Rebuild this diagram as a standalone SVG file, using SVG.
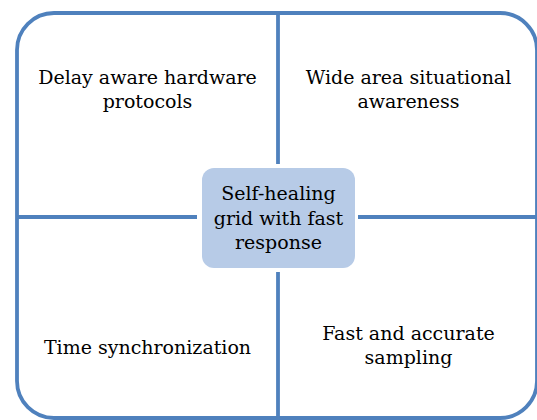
<svg xmlns="http://www.w3.org/2000/svg" width="537" height="420" viewBox="0 0 537 420">
<style>
.ln{stroke:#4F81BD;stroke-width:3.8;fill:none}
.t{font-family:"DejaVu Serif","Liberation Serif",serif;font-size:19px;fill:#000;text-anchor:middle}
</style>
<rect width="537" height="420" fill="#fff"/>
<g id="frame">
<rect class="ln" x="17" y="13" width="520" height="405" rx="37"/>
</g>
<g id="connectors">
<line class="ln" x1="278" y1="13" x2="278" y2="164"/>
<line class="ln" x1="278" y1="272" x2="278" y2="418"/>
<line class="ln" x1="17" y1="217" x2="197" y2="217"/>
<line class="ln" x1="358" y1="217" x2="537" y2="217"/>
</g>
<g id="center">
<rect x="202" y="168" width="153" height="100" rx="12" fill="#B7CBE7"/>
<text class="t" x="278.5" y="200">Self-healing</text>
<text class="t" x="278.5" y="225">grid with fast</text>
<text class="t" x="278.5" y="249">response</text>
</g>
<g id="tl">
<text class="t" x="147.5" y="84">Delay aware hardware</text>
<text class="t" x="147.5" y="108">protocols</text>
</g>
<g id="tr">
<text class="t" x="408.5" y="84">Wide area situational</text>
<text class="t" x="408.5" y="108">awareness</text>
</g>
<g id="bl">
<text class="t" x="147.5" y="354">Time synchronization</text>
</g>
<g id="br">
<text class="t" x="408.5" y="340">Fast and accurate</text>
<text class="t" x="408.5" y="364">sampling</text>
</g>
</svg>
